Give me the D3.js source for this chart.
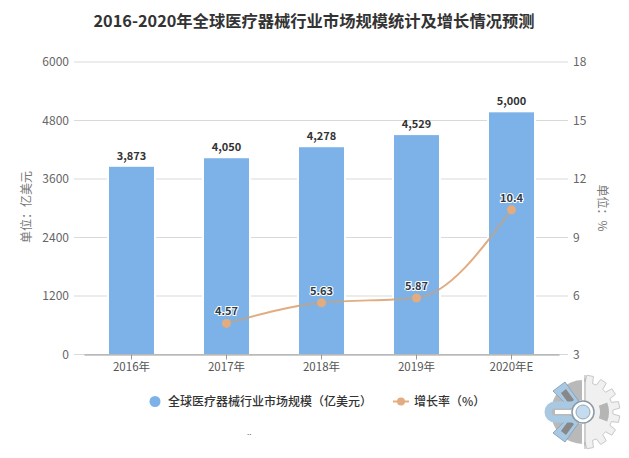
<!DOCTYPE html>
<html>
<head>
<meta charset="utf-8">
<script src="https://cdnjs.cloudflare.com/ajax/libs/d3/7.8.5/d3.min.js"></script>
<style>
body { margin: 0; background: #fff; }
text { font-family: "Noto Sans CJK SC", "Open Sans", sans-serif; }
</style>
</head>
<body>
<div id="chart"></div>
<script>
const categories = ["2016年", "2017年", "2018年", "2019年", "2020年E"];
const marketSize = [3873, 4050, 4278, 4529, 5000];
const growthRate = [null, 4.57, 5.63, 5.87, 10.4];
const leftTicks = [0, 1200, 2400, 3600, 4800, 6000];
const rightTicks = [3, 6, 9, 12, 15, 18];

const width = 629, height = 458;
const plotLeft = 84, plotRight = 559, plotTop = 61.5, plotBottom = 354;

const svg = d3.select("#chart").append("svg")
    .attr("width", width)
    .attr("height", height)
    .style("display", "block");

const x = d3.scaleBand().domain(categories).range([plotLeft, plotRight]);
const yLeft = d3.scaleLinear().domain([0, 6000]).range([plotBottom, plotTop]);
// the bars sit a little under the grid in the picture
const yBar = d3.scaleLinear().domain([0, 6000]).range([plotBottom, plotTop + 2.5]);
const yRight = d3.scaleLinear().domain([3, 18]).range([plotBottom, plotTop]);
const barWidth = 45;
const cx = d => x(d) + x.bandwidth() / 2;

svg.append("text")
    .attr("x", 314)
    .attr("y", 27)
    .attr("text-anchor", "middle")
    .attr("font-size", 16.3)
    .attr("font-weight", 700)
    .attr("fill", "#333")
    .text("2016-2020年全球医疗器械行业市场规模统计及增长情况预测");

// grid
svg.append("g").selectAll("line")
    .data(leftTicks)
    .join("line")
    .attr("x1", 74)
    .attr("x2", 568)
    .attr("y1", d => yLeft(d) + 0.5)
    .attr("y2", d => yLeft(d) + 0.5)
    .attr("stroke", "#d9d9d9");

// left axis
const axisLeft = svg.append("g")
    .attr("transform", `translate(${plotLeft - 15},0.5)`)
    .call(d3.axisLeft(yLeft).tickValues(leftTicks).tickSize(0).tickPadding(0).tickFormat(d3.format("d")));
axisLeft.select(".domain").remove();
axisLeft.selectAll("text").attr("font-size", 12).attr("fill", "#666");

// right axis
const axisRight = svg.append("g")
    .attr("transform", `translate(${plotRight + 14},0.5)`)
    .call(d3.axisRight(yRight).tickValues(rightTicks).tickSize(0).tickPadding(0));
axisRight.select(".domain").remove();
axisRight.selectAll("text").attr("font-size", 12).attr("fill", "#666");

// halo so grid stops short of the bars
svg.append("g").selectAll("rect")
    .data(categories)
    .join("rect")
    .attr("x", d => cx(d) - barWidth / 2 - 2)
    .attr("width", barWidth + 4)
    .attr("y", (d, i) => yBar(marketSize[i]))
    .attr("height", (d, i) => plotBottom - yBar(marketSize[i]))
    .attr("fill", "#fff");

svg.append("g").selectAll("rect")
    .data(categories)
    .join("rect")
    .attr("x", d => cx(d) - barWidth / 2)
    .attr("width", barWidth)
    .attr("y", (d, i) => yBar(marketSize[i]))
    .attr("height", (d, i) => plotBottom - yBar(marketSize[i]))
    .attr("fill", "#7cb2e8");

// bottom axis
const axisBottom = svg.append("g")
    .attr("transform", `translate(0,${plotBottom + 0.5})`)
    .call(d3.axisBottom(x).tickSize(5).tickSizeOuter(0).tickPadding(3));
axisBottom.select(".domain").attr("stroke", "#999");
axisBottom.selectAll("line").attr("stroke", "#999");
axisBottom.selectAll("text").attr("font-size", 11.5).attr("fill", "#555");

// axis titles
svg.append("text")
    .attr("transform", "translate(31,207) rotate(-90)")
    .attr("text-anchor", "middle")
    .attr("font-size", 12)
    .attr("fill", "#777")
    .text("单位：亿美元");
svg.append("text")
    .attr("transform", "translate(598,208) rotate(90)")
    .attr("text-anchor", "middle")
    .attr("font-size", 12)
    .attr("fill", "#777")
    .text("单位：%");

// bar labels
svg.append("g").selectAll("text")
    .data(categories)
    .join("text")
    .attr("x", d => cx(d))
    .attr("y", (d, i) => yBar(marketSize[i]) - 7)
    .attr("text-anchor", "middle")
    .attr("font-family", "DejaVu Sans")
    .attr("font-size", 11)
    .attr("font-weight", 700)
    .attr("fill", "#333")
    .text((d, i) => d3.format(",")(marketSize[i]));

// growth line, greyer where it crosses a bar
const lineData = categories.map((c, i) => ({ c, v: growthRate[i] })).filter(d => d.v !== null);
const line = d3.line()
    .x(d => cx(d.c))
    .y(d => yRight(d.v))
    .curve(d3.curveMonotoneX);

svg.append("clipPath")
    .attr("id", "bar-clip")
    .selectAll("rect")
    .data(categories)
    .join("rect")
    .attr("x", d => cx(d) - barWidth / 2)
    .attr("width", barWidth)
    .attr("y", (d, i) => yBar(marketSize[i]))
    .attr("height", (d, i) => plotBottom - yBar(marketSize[i]));

svg.append("path")
    .attr("d", line(lineData))
    .attr("fill", "none")
    .attr("stroke", "#e2ac80")
    .attr("stroke-width", 2);

svg.append("path")
    .attr("d", line(lineData))
    .attr("clip-path", "url(#bar-clip)")
    .attr("fill", "none")
    .attr("stroke", "#a3a9ae")
    .attr("stroke-width", 2.5);

svg.append("g").selectAll("circle")
    .data(lineData)
    .join("circle")
    .attr("cx", d => cx(d.c))
    .attr("cy", d => yRight(d.v))
    .attr("r", 4.5)
    .attr("fill", "#e2ac80");

svg.append("g").selectAll("text")
    .data(lineData)
    .join("text")
    .attr("x", d => cx(d.c))
    .attr("y", d => yRight(d.v) - 8)
    .attr("text-anchor", "middle")
    .attr("font-family", "DejaVu Sans")
    .attr("font-size", 11)
    .attr("font-weight", 700)
    .attr("fill", "#2d3b4a")
    .attr("stroke", "#fff")
    .attr("stroke-width", 2)
    .attr("paint-order", "stroke")
    .text(d => d.v);

// legend
svg.append("circle")
    .attr("cx", 155).attr("cy", 401.5).attr("r", 5.5).attr("fill", "#7cb2e8");
svg.append("text")
    .attr("x", 168).attr("y", 406)
    .attr("font-size", 12).attr("font-weight", 500).attr("fill", "#333")
    .text("全球医疗器械行业市场规模（亿美元）");
svg.append("line")
    .attr("x1", 393).attr("x2", 409).attr("y1", 401.5).attr("y2", 401.5)
    .attr("stroke", "#e2ac80").attr("stroke-width", 2);
svg.append("circle")
    .attr("cx", 401).attr("cy", 401.5).attr("r", 4).attr("fill", "#e2ac80");
svg.append("text")
    .attr("x", 414).attr("y", 406)
    .attr("font-size", 12).attr("font-weight", 500).attr("fill", "#333")
    .text("增长率（%）");

// two specks under the legend
svg.append("text")
    .attr("x", 247).attr("y", 435)
    .attr("font-size", 8).attr("fill", "#555")
    .text("..");

// watermark: half gear on the right, blue knot on the left
const wm = svg.append("g").attr("transform", "translate(583,412)");
const toothAngles = d3.range(8).map(i => (i + 0.5) * Math.PI / 8);
const gearPoints = [[0, 37]];
toothAngles.forEach(a => {
    gearPoints.push([a - 0.13, 30], [a - 0.09, 37], [a + 0.09, 37], [a + 0.13, 30]);
});
gearPoints.push([Math.PI, 37]);
wm.append("path")
    .attr("d", d3.lineRadial()(gearPoints) + "Z")
    .attr("fill", "#f0f0f0")
    .attr("stroke", "#c8c8c8");
wm.append("path")
    .attr("d", d3.arc()({ innerRadius: 17, outerRadius: 26, startAngle: Math.PI * 0.38, endAngle: Math.PI * 0.62 }))
    .attr("fill", "#b5b5b5");
wm.append("path")
    .attr("d", d3.arc()({ innerRadius: 12, outerRadius: 32, startAngle: -Math.PI, endAngle: 0 }))
    .attr("fill", "#b9b9b9");
// upper and lower bands, U shape in the middle
[-1, 1].forEach(s => {
    wm.append("path")
        .attr("d", `M-30,${s * 21}L-18,${s * 30}L-3,${s * 9}L-12,${s * 3}Z`)
        .attr("fill", "#a9c8e2")
        .attr("stroke", "#8aa6bf");
    wm.append("path")
        .attr("d", `M-22,${s * 19}L-17,${s * 23}L-9,${s * 12}L-14,${s * 8}Z`)
        .attr("fill", "#888");
});
wm.append("path")
    .attr("d", "M-8,-7L-28,-7A7,7 0 0 0 -28,7L-8,7")
    .attr("fill", "none")
    .attr("stroke", "#a9c8e2")
    .attr("stroke-width", 7);
wm.append("line")
    .attr("x1", -9).attr("x2", -28).attr("y1", 0).attr("y2", 0)
    .attr("stroke", "#fff").attr("stroke-width", 4);
wm.append("line")
    .attr("x1", 0).attr("x2", 0).attr("y1", -37).attr("y2", 37)
    .attr("stroke", "#fff").attr("stroke-width", 2);
wm.append("line")
    .attr("x1", 2).attr("x2", 2).attr("y1", -37).attr("y2", 37)
    .attr("stroke", "#aaa");
wm.append("circle")
    .attr("r", 11).attr("fill", "#fff").attr("stroke", "#8b99a6").attr("stroke-width", 1.5);
wm.append("circle")
    .attr("r", 7).attr("fill", "#c4dcf0").attr("stroke", "#9aa7b2");
</script>
</body>
</html>
